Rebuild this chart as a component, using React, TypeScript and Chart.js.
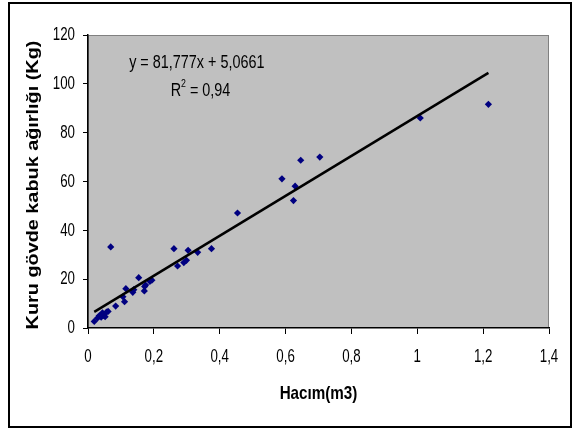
import React, { useEffect, useRef } from "react";
import { Chart, registerables } from "chart.js";

Chart.register(...registerables);

const volumeX: number[] = [
  0.019, 0.029, 0.034, 0.04, 0.044, 0.048, 0.052, 0.056, 0.061, 0.069,
  0.084, 0.106, 0.111, 0.115, 0.136, 0.139, 0.154, 0.171, 0.172, 0.175,
  0.188, 0.194, 0.261, 0.272, 0.291, 0.299, 0.304, 0.333, 0.375, 0.454,
  0.589, 0.624, 0.629, 0.646, 0.704, 1.009, 1.216,
];
const barkWeightY: number[] = [
  2.7, 4.1, 5.0, 4.4, 6.2, 5.2, 4.6, 6.5, 6.8, 33.2,
  9.0, 12.8, 10.8, 16.1, 14.6, 15.7, 20.6, 15.2, 17.0, 17.6,
  19.1, 19.6, 32.5, 25.4, 26.8, 27.7, 31.8, 31.0, 32.5, 47.1,
  61.1, 52.2, 58.1, 68.7, 70.0, 86.0, 91.6,
];
const SLOPE = 81.777;
const INTERCEPT = 5.0661;
const trendX: number[] = [0.019, 1.216];
const equationText = "y = 81,777x + 5,0661";
const r2Value = "0,94";
const xTitle = "Hacım(m3)";
const yTitle = "Kuru gövde kabuk ağırlığı (Kg)";

const FONT = '"Liberation Sans", Arial, sans-serif';
const SQUEEZE = 0.7;

const fmt = (v: number) => String(Math.round(v * 10) / 10).replace(".", ",");

function drawText(
  ctx: CanvasRenderingContext2D,
  text: string,
  x: number,
  y: number,
  font: string,
  align: CanvasTextAlign,
  sx: number,
  sy: number,
  rot = 0
) {
  ctx.save();
  ctx.translate(x, y);
  if (rot) ctx.rotate(rot);
  ctx.scale(sx, sy);
  ctx.font = font;
  ctx.textAlign = align;
  ctx.textBaseline = "middle";
  ctx.fillStyle = "#000";
  ctx.fillText(text, 0, 0);
  ctx.restore();
}

export default function App() {
  const ref = useRef<HTMLCanvasElement>(null);
  useEffect(() => {
    if (!ref.current) return;
    const plugin = {
      id: "excelLook",
      beforeDraw(chart: any) {
        const { ctx, chartArea: a } = chart;
        ctx.save();
        ctx.fillStyle = "#C0C0C0";
        ctx.fillRect(a.left, a.top, a.right - a.left, a.bottom - a.top);
        ctx.strokeStyle = "#808080";
        ctx.lineWidth = 1;
        ctx.strokeRect(a.left + 0.5, a.top + 0.5, a.right - a.left - 1, a.bottom - a.top - 1);
        ctx.restore();
      },
      afterDraw(chart: any) {
        const { ctx } = chart;
        const xs = chart.scales.x;
        const ys = chart.scales.y;
        const tickFont = "19px " + FONT;
        ys.ticks.forEach((t: any) => {
          drawText(ctx, fmt(t.value), 75, ys.getPixelForValue(t.value), tickFont, "right", SQUEEZE, 1);
        });
        xs.ticks.forEach((t: any) => {
          drawText(ctx, fmt(t.value), xs.getPixelForValue(t.value), 357, tickFont, "center", SQUEEZE, 1);
        });
        drawText(ctx, xTitle, (xs.left + xs.right) / 2, 394, "bold 16px " + FONT, "center", 0.95, 1.12);
        drawText(ctx, yTitle, 33, 185, "bold 16px " + FONT, "center", 1.24, 1.08, -Math.PI / 2);
        const ex = xs.getPixelForValue(0.125);
        const ey = ys.getPixelForValue(108.5);
        drawText(ctx, equationText, ex, ey, "18px " + FONT, "left", 0.8, 1.05);
        const rx = xs.getPixelForValue(0.251);
        const ry = ys.getPixelForValue(97);
        ctx.save();
        ctx.font = "18px " + FONT;
        const rw = ctx.measureText("R").width * 0.8;
        ctx.font = "11px " + FONT;
        const sw = ctx.measureText("2").width * 0.8;
        ctx.restore();
        drawText(ctx, "R", rx, ry, "18px " + FONT, "left", 0.8, 1.05);
        drawText(ctx, "2", rx + rw, ry - 7, "11px " + FONT, "left", 0.8, 1.05);
        drawText(ctx, " = " + r2Value, rx + rw + sw, ry, "18px " + FONT, "left", 0.8, 1.05);
      },
    };
    const chart = new Chart(ref.current, {
      type: "scatter",
      data: {
        datasets: [
          {
            type: "line",
            label: "trend",
            data: trendX.map((x) => ({ x, y: SLOPE * x + INTERCEPT })),
            borderColor: "#000",
            borderWidth: 2.5,
            pointRadius: 0,
            fill: false,
            order: 0,
          } as any,
          {
            label: "data",
            data: volumeX.map((x, i) => ({ x, y: barkWeightY[i] })),
            pointStyle: "rectRot",
            pointRadius: 3.6,
            backgroundColor: "#000080",
            borderColor: "#000080",
            borderWidth: 0,
            order: 1,
          },
        ],
      },
      options: {
        responsive: false,
        animation: false,
        layout: { padding: { top: 35, right: 23, left: 0, bottom: 0 } },
        plugins: { legend: { display: false }, tooltip: { enabled: false } },
        scales: {
          x: {
            type: "linear",
            min: 0,
            max: 1.4,
            afterFit: (s: any) => { s.height = 102; },
            ticks: { stepSize: 0.2, display: false, maxRotation: 0 },
            grid: { display: true, drawOnChartArea: false, drawTicks: true, tickLength: 6, color: "#000" },
            border: { display: true, color: "#000", width: 1.5 },
          },
          y: {
            type: "linear",
            min: 0,
            max: 120,
            afterFit: (s: any) => { s.width = 88; },
            ticks: { stepSize: 20, display: false },
            grid: { display: true, drawOnChartArea: false, drawTicks: true, tickLength: 5, color: "#000" },
            border: { display: true, color: "#000", width: 1.5 },
          },
        },
      },
      plugins: [plugin],
    } as any);
    return () => chart.destroy();
  }, []);
  return (
    <div style={{ position: "absolute", left: 0, top: 0, width: 572, height: 430, background: "#fff" }}>
      <canvas ref={ref} width={572} height={430} style={{ position: "absolute", left: 0, top: 0 }} />
      <div
        style={{
          position: "absolute",
          left: 8,
          top: 2,
          width: 560,
          height: 422,
          border: "2px solid #000",
          pointerEvents: "none",
        }}
      />
    </div>
  );
}
